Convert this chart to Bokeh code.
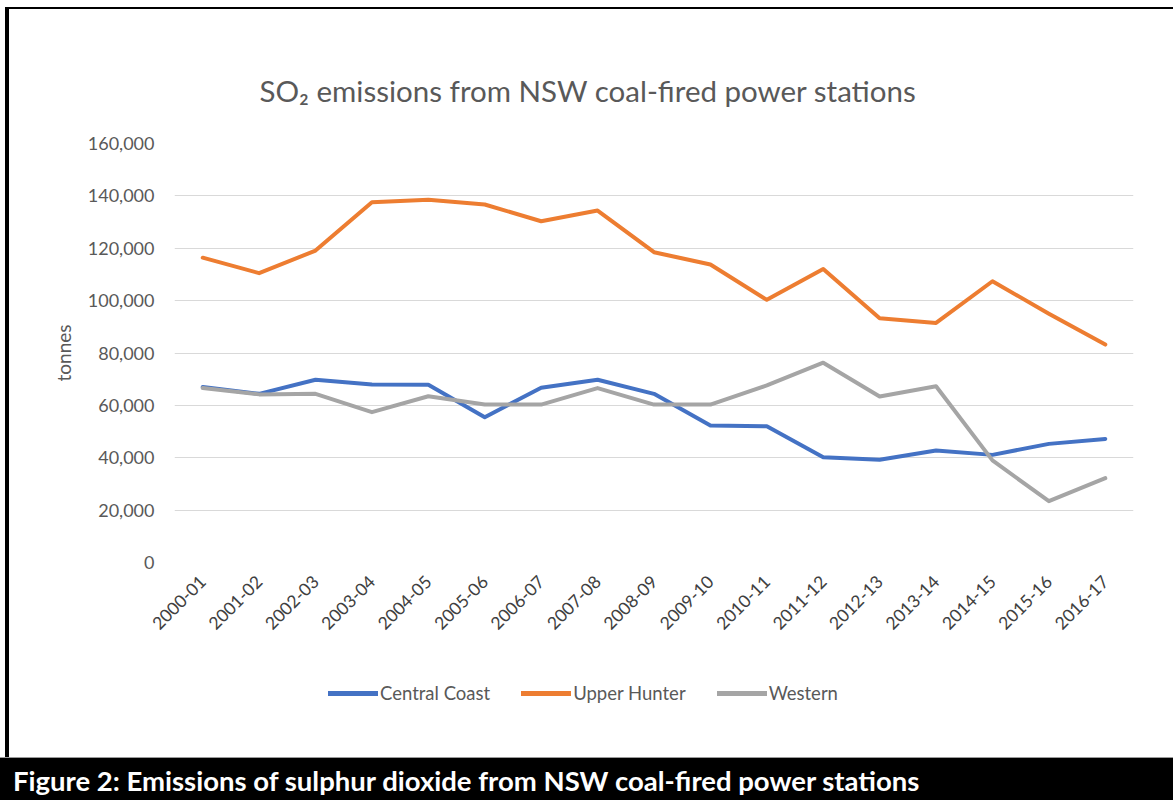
from bokeh.plotting import figure
from bokeh.models import (FactorRange, Range1d, NumeralTickFormatter, SingleIntervalTicker,
                          Legend, LegendItem, Div)
from bokeh.layouts import column
from bokeh.embed import file_html
from bokeh.resources import INLINE

# ---- data -------------------------------------------------------------
years = ["2000-01", "2001-02", "2002-03", "2003-04", "2004-05", "2005-06",
         "2006-07", "2007-08", "2008-09", "2009-10", "2010-11", "2011-12",
         "2012-13", "2013-14", "2014-15", "2015-16", "2016-17"]

central_coast = [67000, 64400, 69800, 68000, 67900, 55500, 66700, 69800, 64400,
                 52300, 52000, 40200, 39200, 42800, 41100, 45300, 47200]
upper_hunter = [116400, 110500, 119100, 137600, 138500, 136700, 130300, 134400, 118500,
                113800, 100300, 112100, 93300, 91500, 107400, 95000, 83200]
western = [66600, 64200, 64400, 57400, 63500, 60300, 60300, 66600, 60300,
           60300, 67600, 76300, 63400, 67300, 39000, 23400, 32200]

series_names = ["Central Coast", "Upper Hunter", "Western"]
series_values = [central_coast, upper_hunter, western]
series_colors = ["#4472C4", "#ED7D31", "#A5A5A5"]

title_text = "SO\u2082 emissions from NSW coal-fired power stations"
caption_text = "Figure 2: Emissions of sulphur dioxide from NSW coal-fired power stations"

FONT = "Lato"
TXT = "#595959"

# ---- main chart ---------------------------------------------------------
p = figure(x_range=FactorRange(*years), y_range=Range1d(0, 160000),
           width=1164, height=641, output_backend="svg", toolbar_location=None,
           min_border_left=165, min_border_right=40, min_border_top=134,
           min_border_bottom=88, background_fill_color="white",
           border_fill_color="white", outline_line_color=None)

for name, vals, col in zip(series_names, series_values, series_colors):
    p.line(years, vals, line_color=col, line_width=4,
           line_join="round", line_cap="round")

p.title.text = title_text
p.title.align = "left"
p.title.offset = 85
p.title.text_font = FONT
p.title.text_font_size = "29.5px"
p.title.text_font_style = "normal"
p.title.text_color = TXT
try:
    p.title.standoff = 72
except Exception:
    pass

# axes
p.yaxis.ticker = SingleIntervalTicker(interval=20000)
p.yaxis.formatter = NumeralTickFormatter(format="0,0")
p.yaxis.axis_label = "tonnes"
p.yaxis.axis_label_text_font = FONT
p.yaxis.axis_label_text_font_size = "19px"
p.yaxis.axis_label_text_font_style = "normal"
p.yaxis.axis_label_text_color = TXT
p.yaxis.axis_label_standoff = 10
for ax in (p.xaxis, p.yaxis):
    ax.axis_line_color = None
    ax.major_tick_line_color = None
    ax.minor_tick_line_color = None
    ax.major_label_text_font = FONT
p.yaxis.major_label_text_color = TXT
p.xaxis.major_label_text_color = "#404040"
p.yaxis.major_label_text_font_size = "18px"
p.yaxis.major_label_standoff = 14
p.xaxis.major_label_text_font_size = "17.5px"
p.xaxis.major_label_orientation = 0.785398
p.xaxis.major_label_standoff = 10

p.xgrid.grid_line_color = None
p.ygrid.grid_line_color = "#D9D9D9"
p.ygrid.grid_line_width = 1

# ---- legend strip (same series, drawn outside its visible range) --------
lf = figure(x_range=FactorRange(*years), y_range=Range1d(0, 1),
            width=1164, height=107, output_backend="svg", toolbar_location=None,
            min_border_left=165, min_border_right=40, min_border_top=0,
            min_border_bottom=0, background_fill_color="white",
            border_fill_color="white", outline_line_color=None)
lf.axis.visible = False
lf.grid.visible = False
items = []
for name, vals, col in zip(series_names, series_values, series_colors):
    r = lf.line(years, vals, line_color=col, line_width=5,
                line_join="round", line_cap="round")
    items.append(LegendItem(label=name, renderers=[r]))

legend = Legend(items=items, orientation="horizontal", location=(154, 53),
                glyph_width=50, glyph_height=20, label_height=20,
                label_standoff=2, spacing=31, padding=0, margin=0,
                border_line_color=None, background_fill_alpha=0,
                label_text_font=FONT, label_text_font_size="18.5px",
                label_text_color=TXT)
lf.add_layout(legend, "center")

framed = column(p, lf, spacing=0, margin=(7, 0, 0, 5),
                styles={"border-left": "4px solid black", "border-top": "2px solid black"})

# ---- caption band -------------------------------------------------------
cap = Div(text=('<div style="padding-left:13px; line-height:46px; white-space:nowrap;">'
                + caption_text + '</div>'),
          width=1173, height=43, margin=0,
          styles={"background-color": "black", "color": "white",
                  "font-family": "Lato", "font-weight": "bold", "font-size": "27.5px",
                  "overflow": "hidden", "border-top": "1px solid #9a9a9a"})

layout = column(framed, cap, spacing=0)
open("out.html", "w").write(file_html(layout, INLINE))
